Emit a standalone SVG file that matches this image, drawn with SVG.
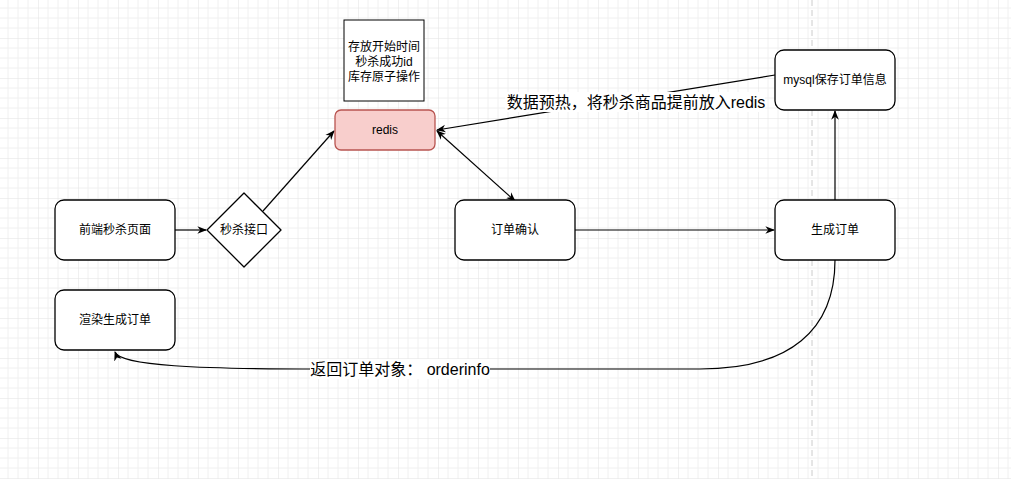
<svg xmlns="http://www.w3.org/2000/svg" width="1011" height="479" viewBox="0 0 1011 479">
<style>
.n{fill:#fff;stroke:#000;stroke-width:1.3}
.t{font-family:"Liberation Sans","Noto Sans CJK SC",sans-serif;font-size:12px;text-anchor:middle;fill:#000}
.l{font-family:"Liberation Sans","Noto Sans CJK SC",sans-serif;font-size:16px;text-anchor:middle;fill:#000}
.e{fill:none;stroke:#000;stroke-width:1.2}
</style>
<defs>
<pattern id="g" width="40" height="40" patternUnits="userSpaceOnUse" x="-2" y="-2">
<path d="M10 0V40M20 0V40M30 0V40M0 10H40M0 20H40M0 30H40" stroke="#f0f0f0" stroke-width="1"/>
<path d="M0 0V40M0 0H40" stroke="#e2e2e2" stroke-width="1"/>
</pattern>
<marker id="a" viewBox="0 0 10 10" refX="9" refY="5" markerWidth="8" markerHeight="8" orient="auto-start-reverse"><path d="M0 1L10 5L0 9L3 5Z" fill="#000"/></marker>
</defs>
<rect width="1011" height="479" fill="#fff"/>
<rect width="1011" height="479" fill="url(#g)"/>
<line x1="812" y1="0" x2="812" y2="479" stroke="#ccc" stroke-dasharray="6 4"/>
<g id="edges">
<path class="e" d="M175 230H206" marker-end="url(#a)"/>
<path class="e" d="M263 211L334 131" marker-end="url(#a)"/>
<path class="e" d="M437 131L515 201" marker-start="url(#a)" marker-end="url(#a)"/>
<path class="e" d="M775 75L437 130" marker-end="url(#a)"/>
<path class="e" d="M575 230H774" marker-end="url(#a)"/>
<path class="e" d="M835 200V111" marker-end="url(#a)"/>
<path class="e" d="M835 260C835 330 790 369 700 369L320 369C200 369 120 366 115 352" marker-end="url(#a)"/>
<rect x="505" y="92" width="260" height="20" fill="#fff"/>
<text class="l" x="636" y="108">数据预热，将秒杀商品提前放入redis</text>
<rect x="310" y="359" width="180" height="20" fill="#fff"/>
<text class="l" x="400" y="375">返回订单对象： orderinfo</text>
</g>
<g id="front"><rect class="n" x="55" y="200" width="120" height="60" rx="9"/><text class="t" x="115" y="234">前端秒杀页面</text></g>
<g id="api"><path class="n" d="M244 193L281 230L244 267L207 230Z" stroke-linejoin="round"/><text class="t" x="244" y="234">秒杀接口</text></g>
<g id="render"><rect class="n" x="55" y="290" width="120" height="60" rx="9"/><text class="t" x="115" y="324">渲染生成订单</text></g>
<g id="note"><rect x="344" y="20" width="80" height="81" fill="#fff" stroke="#000"/><text class="t" x="384" y="51">存放开始时间</text><text class="t" x="384" y="66">秒杀成功id</text><text class="t" x="384" y="81">库存原子操作</text></g>
<g id="redis"><rect x="335" y="110" width="100" height="40" rx="6" fill="#f8cecc" stroke="#b85450" stroke-width="1.3"/><text class="t" x="385" y="134">redis</text></g>
<g id="confirm"><rect class="n" x="455" y="200" width="120" height="60" rx="9"/><text class="t" x="515" y="234">订单确认</text></g>
<g id="create"><rect class="n" x="775" y="200" width="120" height="60" rx="9"/><text class="t" x="835" y="234">生成订单</text></g>
<g id="mysql"><rect class="n" x="775" y="50" width="120" height="60" rx="9"/><text class="t" x="835" y="84">mysql保存订单信息</text></g>
</svg>
